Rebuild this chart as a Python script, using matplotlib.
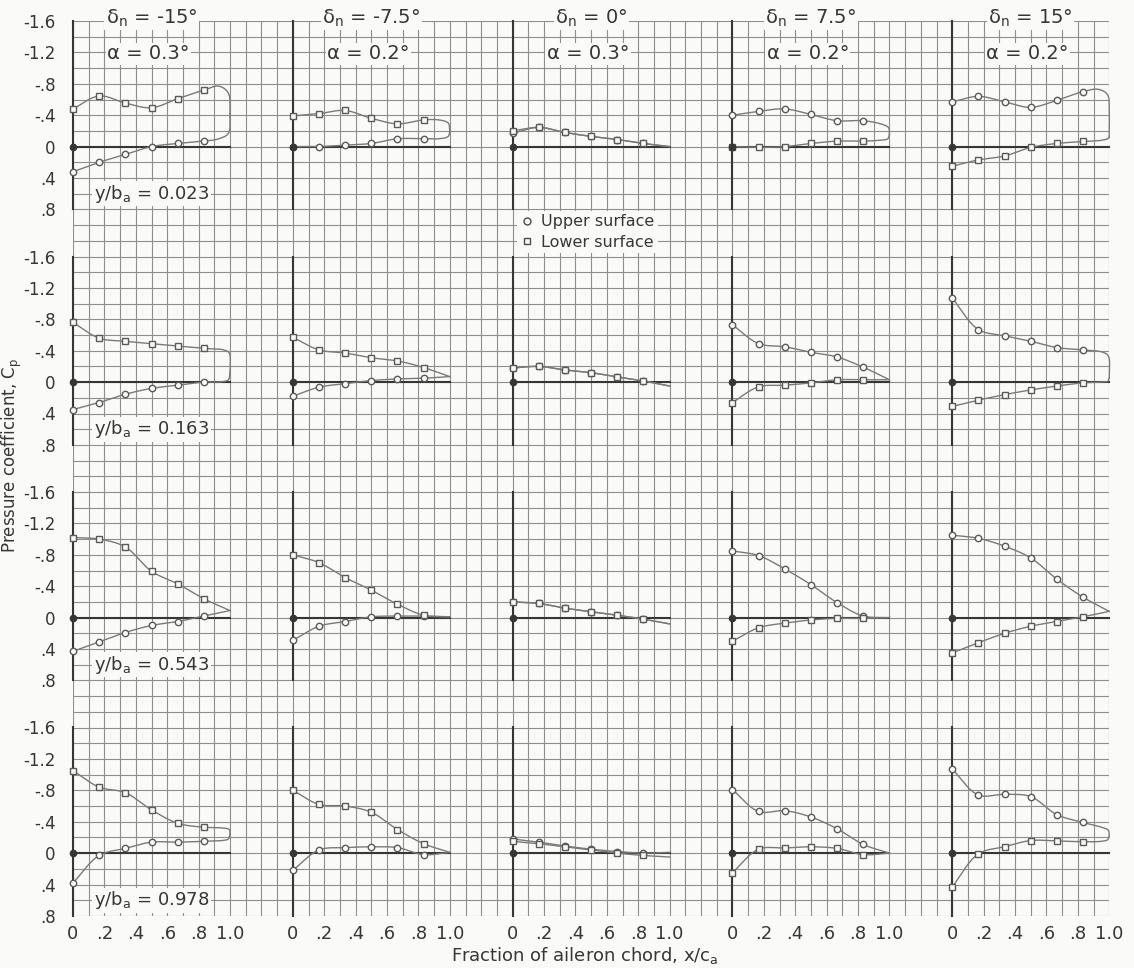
import numpy as np
import matplotlib
matplotlib.use("Agg")
import matplotlib.pyplot as plt
from matplotlib.lines import Line2D

# chordwise orifice stations, x/ca
stations = [0.0, 1 / 6, 1 / 3, 1 / 2, 2 / 3, 5 / 6]

deflections = ["-15", "-7.5", "0", "7.5", "15"]
alphas = ["0.3", "0.2", "0.3", "0.2", "0.2"]
spans = ["0.023", "0.163", "0.543", "0.978"]

# pressure coefficients, one row per spanwise station (y/ba)
# upper surface = circles, lower surface = squares
upper_m15 = [[0.32, 0.20, 0.10, 0.00, -0.04, -0.07],
             [0.35, 0.26, 0.155, 0.08, 0.04, 0.00],
             [0.43, 0.31, 0.19, 0.10, 0.05, -0.02],
             [0.38, 0.03, -0.06, -0.14, -0.14, -0.15]]
lower_m15 = [[-0.48, -0.645, -0.555, -0.495, -0.61, -0.72],
             [-0.76, -0.56, -0.52, -0.49, -0.46, -0.43],
             [-1.02, -1.00, -0.90, -0.59, -0.43, -0.24],
             [-1.05, -0.84, -0.77, -0.55, -0.38, -0.33]]

upper_m75 = [[0.00, 0.00, -0.02, -0.04, -0.10, -0.10],
             [0.18, 0.065, 0.02, -0.02, -0.04, -0.05],
             [0.29, 0.11, 0.05, -0.01, -0.02, -0.02],
             [0.22, -0.04, -0.07, -0.08, -0.07, 0.02]]
lower_m75 = [[-0.39, -0.42, -0.46, -0.36, -0.29, -0.34],
             [-0.57, -0.41, -0.37, -0.31, -0.27, -0.185],
             [-0.80, -0.70, -0.51, -0.35, -0.17, -0.03],
             [-0.80, -0.62, -0.60, -0.52, -0.30, -0.12]]

upper_0 = [[-0.17, -0.245, -0.18, -0.13, -0.09, -0.04],
           [-0.18, -0.20, -0.155, -0.12, -0.065, -0.014],
           [-0.20, -0.18, -0.12, -0.075, -0.03, 0.02],
           [-0.18, -0.14, -0.09, -0.05, -0.02, 0.00]]
lower_0 = [[-0.20, -0.245, -0.18, -0.13, -0.09, -0.04],
           [-0.18, -0.20, -0.155, -0.12, -0.065, -0.014],
           [-0.20, -0.18, -0.12, -0.075, -0.03, 0.02],
           [-0.15, -0.12, -0.08, -0.04, 0.00, 0.03]]

upper_p75 = [[-0.40, -0.45, -0.48, -0.41, -0.33, -0.33],
             [-0.73, -0.49, -0.45, -0.38, -0.32, -0.19],
             [-0.85, -0.79, -0.62, -0.42, -0.19, -0.02],
             [-0.81, -0.53, -0.54, -0.46, -0.31, -0.11]]
lower_p75 = [[0.00, 0.01, 0.00, -0.04, -0.07, -0.07],
             [0.26, 0.06, 0.04, 0.01, -0.03, -0.03],
             [0.30, 0.13, 0.07, 0.03, 0.01, 0.01],
             [0.25, -0.05, -0.065, -0.08, -0.06, 0.02]]

upper_p15 = [[-0.57, -0.64, -0.57, -0.50, -0.59, -0.70],
             [-1.07, -0.67, -0.59, -0.52, -0.44, -0.41],
             [-1.05, -1.01, -0.91, -0.76, -0.49, -0.26],
             [-1.07, -0.74, -0.75, -0.72, -0.49, -0.39]]
lower_p15 = [[0.25, 0.17, 0.12, 0.01, -0.04, -0.065],
             [0.31, 0.23, 0.16, 0.10, 0.05, 0.01],
             [0.45, 0.32, 0.20, 0.11, 0.05, -0.01],
             [0.43, 0.01, -0.08, -0.16, -0.155, -0.145]]

# faired curves from the last orifice round to the trailing edge, (x, Cp)
tail_up_m15 = [[(0.93, -0.10), (0.99, -0.17), (1.0, -0.42)],
               [(0.95, -0.005), (0.99, -0.03), (1.0, -0.12)],
               [(1.0, -0.09)],
               [(0.95, -0.16), (0.99, -0.18), (1.0, -0.24)]]
tail_lo_m15 = [[(0.93, -0.77), (0.99, -0.68), (1.0, -0.42)],
               [(0.96, -0.41), (0.995, -0.37), (1.0, -0.12)],
               [(1.0, -0.09)],
               [(0.95, -0.32), (0.995, -0.30), (1.0, -0.24)]]

tail_up_m75 = [[(0.93, -0.10), (0.99, -0.13), (1.0, -0.20)],
               [(1.0, -0.07)],
               [(1.0, -0.01)],
               [(1.0, -0.01)]]
tail_lo_m75 = [[(0.93, -0.34), (0.99, -0.30), (1.0, -0.20)],
               [(1.0, -0.07)],
               [(1.0, -0.01)],
               [(1.0, -0.01)]]

tail_up_0 = [[(1.0, 0.00)], [(1.0, 0.05)], [(1.0, 0.08)], [(1.0, -0.01)]]
tail_lo_0 = [[(1.0, 0.00)], [(1.0, 0.05)], [(1.0, 0.08)], [(1.0, 0.05)]]

tail_up_p75 = [[(0.96, -0.28), (0.995, -0.24), (1.0, -0.15)],
               [(1.0, -0.03)],
               [(1.0, 0.00)],
               [(1.0, 0.00)]]
tail_lo_p75 = [[(0.93, -0.08), (0.99, -0.10), (1.0, -0.15)],
               [(1.0, -0.03)],
               [(1.0, 0.00)],
               [(1.0, 0.00)]]

tail_up_p15 = [[(0.93, -0.73), (0.99, -0.66), (1.0, -0.45), (1.0, -0.12)],
               [(0.96, -0.38), (0.995, -0.33), (1.0, -0.05)],
               [(1.0, -0.08)],
               [(0.95, -0.33), (0.995, -0.29), (1.0, -0.21)]]
tail_lo_p15 = [[(0.95, -0.08), (0.99, -0.10), (1.0, -0.12)],
               [(0.95, 0.00), (0.99, -0.01), (1.0, -0.05)],
               [(1.0, -0.08)],
               [(0.95, -0.15), (0.99, -0.17), (1.0, -0.21)]]

columns = [(upper_m15, lower_m15, tail_up_m15, tail_lo_m15),
           (upper_m75, lower_m75, tail_up_m75, tail_lo_m75),
           (upper_0, lower_0, tail_up_0, tail_lo_0),
           (upper_p75, lower_p75, tail_up_p75, tail_lo_p75),
           (upper_p15, lower_p15, tail_up_p15, tail_lo_p15)]

paper = "#fafaf8"
rule = "#8e8e8e"
ink = "#363636"
pencil = "#7a7a7a"

W, H = 1134, 968
L, T, C = 73, 21, 15.7   # graph paper origin and cell size, pixels


def fig_box(left, top, w, h):
    return [left / W, 1 - (top + h) / H, w / W, h / H]


def faired(pts, n=24):
    # centripetal Catmull-Rom through the points, in grid-cell units
    P = np.array(pts, dtype=float) / [0.1, 0.2]
    if len(P) < 3:
        return P[:, 0] * 0.1, P[:, 1] * 0.2
    P = np.vstack([2 * P[0] - P[1], P, 2 * P[-1] - P[-2]])
    out = []
    for k in range(1, len(P) - 2):
        p0, p1, p2, p3 = P[k - 1:k + 3]
        t0 = 0.0
        t1 = t0 + max(np.linalg.norm(p1 - p0), 1e-6) ** 0.5
        t2 = t1 + max(np.linalg.norm(p2 - p1), 1e-6) ** 0.5
        t3 = t2 + max(np.linalg.norm(p3 - p2), 1e-6) ** 0.5
        t = np.linspace(t1, t2, n)[:, None]
        a1 = (t1 - t) / (t1 - t0) * p0 + (t - t0) / (t1 - t0) * p1
        a2 = (t2 - t) / (t2 - t1) * p1 + (t - t1) / (t2 - t1) * p2
        a3 = (t3 - t) / (t3 - t2) * p2 + (t - t2) / (t3 - t2) * p3
        b1 = (t2 - t) / (t2 - t0) * a1 + (t - t0) / (t2 - t0) * a2
        b2 = (t3 - t) / (t3 - t1) * a2 + (t - t1) / (t3 - t1) * a3
        c = (t2 - t) / (t2 - t1) * b1 + (t - t1) / (t2 - t1) * b2
        out.append(c if k == 1 else c[1:])
    out = np.vstack(out)
    return out[:, 0] * 0.1, out[:, 1] * 0.2


fig = plt.figure(figsize=(W / 100, H / 100), dpi=100)
fig.patch.set_facecolor(paper)

# graph paper: 66 x 57 cells, 0.1 x/ca by 0.2 Cp each
paper_ax = fig.add_axes(fig_box(L, T, 66 * C, 57 * C))
paper_ax.set_xlim(0, 66)
paper_ax.set_ylim(57, 0)
paper_ax.axis("off")
paper_ax.vlines(np.arange(67), 0, 57, color=rule, lw=0.8)
paper_ax.hlines(np.arange(58), 0, 66, color=rule, lw=0.8)

ytick_vals = [-1.6, -1.2, -0.8, -0.4, 0, 0.4, 0.8]
ytick_txt = ["-1.6", "-1.2", "-.8", "-.4", "0", ".4", ".8"]
xtick_vals = [0, 0.2, 0.4, 0.6, 0.8, 1.0]
xtick_txt = ["0", ".2", ".4", ".6", ".8", "1.0"]

boxed = dict(facecolor=paper, edgecolor="none", pad=1.0)

for i in range(4):
    for j in range(5):
        up, lo, tail_up, tail_lo = columns[j]
        ax = fig.add_axes(fig_box(L + 14 * j * C, T + 15 * i * C, 10 * C, 12 * C))
        ax.set_xlim(0, 1)
        ax.set_ylim(0.8, -1.6)
        ax.patch.set_visible(False)
        for s in ax.spines.values():
            s.set_visible(False)
        ax.set_yticks(ytick_vals)
        ax.set_yticklabels(ytick_txt)
        ax.set_xticks(xtick_vals)
        ax.set_xticklabels(xtick_txt)
        ax.tick_params(left=False, bottom=False, labelleft=(j == 0),
                       labelbottom=(i == 3), colors=ink)
        ax.tick_params(axis="y", pad=9, labelsize=12)
        ax.tick_params(axis="x", pad=3, labelsize=13)

        # reference axes of each plot
        ax.plot([0, 0], [-1.6, 0.8], color=ink, lw=1.5, zorder=2, clip_on=False)
        ax.plot([0, 1], [0, 0], color=ink, lw=1.5, zorder=2, clip_on=False)
        ax.plot([0], [0], "o", ms=4.5, color=ink, zorder=5, clip_on=False)

        for vals, tail, mk in ((up[i], tail_up[i], "o"), (lo[i], tail_lo[i], "s")):
            pts = list(zip(stations, vals)) + list(tail)
            fx, fy = faired(pts)
            ax.plot(fx, fy, color=pencil, lw=1.0, zorder=3, clip_on=False)
            ax.plot(stations, vals, ls="none", marker=mk, ms=4.6 if mk == "o" else 4.2,
                    mfc=paper, mec="#5a5a5a", mew=1.0, zorder=4, clip_on=False)

        if i == 0:
            ax.text(0.5, -1.64, "δ$_{\\mathrm{n}}$ = " + deflections[j] + "°",
                    ha="center", va="center", fontsize=14, color=ink,
                    bbox=boxed, clip_on=False, zorder=6)
            ax.text(0.48, -1.18, "α = " + alphas[j] + "°", ha="center", va="center",
                    fontsize=14, color=ink, bbox=boxed, zorder=6)
        if j == 0:
            ax.text(0.5, 0.6, "y/b$_{\\mathrm{a}}$ = " + spans[i], ha="center",
                    va="center", fontsize=13, color=ink, bbox=boxed, zorder=6)
        if i == 0 and j == 2:
            handles = [Line2D([], [], ls="none", marker="o", ms=5, mfc=paper,
                              mec="#4a4a4a", mew=1.0),
                       Line2D([], [], ls="none", marker="s", ms=4.6, mfc=paper,
                              mec="#4a4a4a", mew=1.0)]
            leg = ax.legend(handles, ["Upper surface", "Lower surface"],
                            loc="upper left", bbox_to_anchor=(-0.02, 0.72),
                            bbox_transform=ax.transData, fontsize=11.5,
                            frameon=True, facecolor=paper, edgecolor="none",
                            framealpha=1, fancybox=False, borderpad=0.2,
                            handlelength=0.8, handletextpad=0.5, labelspacing=0.35)
            for t in leg.get_texts():
                t.set_color(ink)
            leg.set_zorder(7)

fig.text(12 / W, 1 - 455 / H, "Pressure coefficient, C$_{\\mathrm{p}}$", rotation=90,
         ha="center", va="center", fontsize=12, color=ink)
fig.text(585 / W, 1 - 955 / H, "Fraction of aileron chord, x/c$_{\\mathrm{a}}$",
         ha="center", va="center", fontsize=13, color=ink)

fig.savefig("out.png", dpi=100, facecolor=paper)
